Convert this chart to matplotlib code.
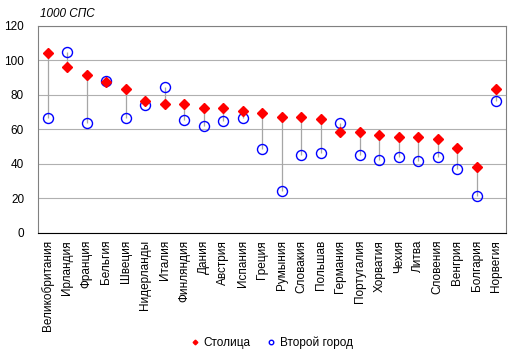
import numpy as np
import matplotlib
matplotlib.use('Agg')
import matplotlib.pyplot as plt

plt.rcParams['font.family'] = ['Liberation Sans', 'DejaVu Sans']

countries = ['Великобритания', 'Ирландия', 'Франция', 'Бельгия', 'Швеция', 'Нидерланды',
             'Италия', 'Финляндия', 'Дания', 'Австрия', 'Испания', 'Греция', 'Румыния',
             'Словакия', 'Польшав', 'Германия', 'Португалия', 'Хорватия', 'Чехия', 'Литва',
             'Словения', 'Венгрия', 'Болгария', 'Норвегия']
capital = [104.2, 96.4, 91.8, 87.7, 83.3, 76.3, 74.6, 74.6, 72.3, 72.3, 70.7, 69.4, 67.1,
           67.1, 65.9, 58.4, 58.4, 56.6, 55.5, 55.5, 54.3, 49.1, 38.1, 83.3]
second = [66.5, 105.1, 63.6, 88.1, 66.5, 74.4, 84.8, 65.3, 62.2, 64.7, 66.5, 48.5, 24.2,
          45.0, 46.6, 64.0, 45.0, 42.5, 43.9, 41.9, 43.9, 37.3, 21.3, 76.3]

fig = plt.figure(figsize=(5.19, 3.59), dpi=100)
ax = fig.add_axes([0.0732, 0.351, 0.9018, 0.5766])

x = np.arange(len(countries))
# серые линии между столицей и вторым городом
ax.vlines(x, np.minimum(capital, second), np.maximum(capital, second),
          color='#a6a6a6', lw=0.9, zorder=2)
ax.plot(x, capital, ls='none', marker='D', ms=5.3, color='#ff0000', zorder=4, label='Столица')
ax.plot(x, second, ls='none', marker='o', ms=7.2, mfc='none', mec='#0000ff', mew=1,
        zorder=3, label='Второй город')

ax.set_xlim(-0.5, len(countries) - 0.5)
ax.set_ylim(0, 120)
ax.set_yticks(range(0, 121, 20))
ax.set_xticks(x)
ax.set_xticklabels(countries, rotation=90, fontsize=8.5)
ax.tick_params(axis='both', length=0, labelsize=8.5)
ax.tick_params(axis='y', pad=10)
ax.tick_params(axis='x', pad=5)
ax.yaxis.grid(True, color='#b0b0b0', lw=0.8)
ax.set_axisbelow(True)
for s in ['left', 'right', 'top']:
    ax.spines[s].set_color('#808080')
ax.spines['bottom'].set_color('black')

ax.text(0.005, 1.03, '1000 СПС', transform=ax.transAxes, fontsize=8.5, style='italic',
        ha='left', va='bottom')

ax.legend(loc='center', bbox_to_anchor=(0.5, -0.53), ncol=2, frameon=False,
          fontsize=8.5, markerscale=0.45, handlelength=0.6, handletextpad=0.4,
          columnspacing=1.5)

fig.savefig('out.png', dpi=100)
